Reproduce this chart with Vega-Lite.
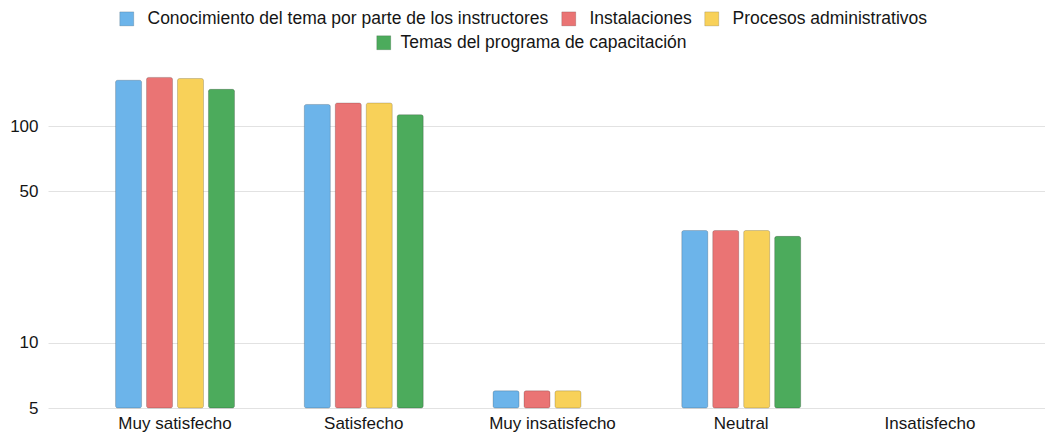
{
  "$schema": "https://vega.github.io/schema/vega-lite/v6.json",
  "width": 1009,
  "height": 347,
  "autosize": {"type": "none"},
  "padding": {"left": 48, "top": 61, "right": 0, "bottom": 29},
  "background": "white",
  "config": {
    "view": {"stroke": null},
    "font": "Liberation Sans",
    "axis": {"labelFont": "Liberation Sans", "labelColor": "#151515", "labelFontSize": 17, "ticks": false, "domain": false, "title": null},
    "legend": {"labelFont": "Liberation Sans", "labelColor": "#151515", "labelFontSize": 17.5, "labelLimit": 600}
  },
  "data": {
    "values": [
      {"categoria": "Muy satisfecho", "serie": "Conocimiento del tema por parte de los instructores", "valor": 163},
      {"categoria": "Muy satisfecho", "serie": "Instalaciones", "valor": 168},
      {"categoria": "Muy satisfecho", "serie": "Procesos administrativos", "valor": 166},
      {"categoria": "Muy satisfecho", "serie": "Temas del programa de capacitación", "valor": 148},
      {"categoria": "Satisfecho", "serie": "Conocimiento del tema por parte de los instructores", "valor": 126},
      {"categoria": "Satisfecho", "serie": "Instalaciones", "valor": 128},
      {"categoria": "Satisfecho", "serie": "Procesos administrativos", "valor": 128},
      {"categoria": "Satisfecho", "serie": "Temas del programa de capacitación", "valor": 113},
      {"categoria": "Muy insatisfecho", "serie": "Conocimiento del tema por parte de los instructores", "valor": 6},
      {"categoria": "Muy insatisfecho", "serie": "Instalaciones", "valor": 6},
      {"categoria": "Muy insatisfecho", "serie": "Procesos administrativos", "valor": 6},
      {"categoria": "Neutral", "serie": "Conocimiento del tema por parte de los instructores", "valor": 33},
      {"categoria": "Neutral", "serie": "Instalaciones", "valor": 33},
      {"categoria": "Neutral", "serie": "Procesos administrativos", "valor": 33},
      {"categoria": "Neutral", "serie": "Temas del programa de capacitación", "valor": 31}
    ]
  },
  "encoding": {
    "x": {
      "field": "categoria", "type": "nominal", "title": null,
      "scale": {"domain": ["Muy satisfecho", "Satisfecho", "Muy insatisfecho", "Neutral", "Insatisfecho"], "paddingInner": 0.37, "paddingOuter": 0.358},
      "axis": {"labelAngle": 0, "labelPadding": 7, "grid": false}
    },
    "y": {
      "field": "valor", "type": "quantitative", "title": null,
      "scale": {"type": "log", "domain": [5, 200], "nice": false, "zero": false},
      "axis": {"values": [5, 10, 50, 100], "grid": true, "gridColor": "#e2e2e2", "labelPadding": 10, "format": "d"}
    },
    "y2": {"datum": 5},
    "xOffset": {
      "field": "serie", "type": "nominal",
      "scale": {"domain": ["Conocimiento del tema por parte de los instructores", "Instalaciones", "Procesos administrativos", "Temas del programa de capacitación"], "paddingInner": 0.16, "paddingOuter": 0}
    }
  },
  "layer": [
    {
      "transform": [{"filter": "datum.serie !== 'Temas del programa de capacitación'"}],
      "mark": {"type": "bar", "cornerRadius": 2, "stroke": "rgba(0,0,0,0.18)", "strokeWidth": 1},
      "encoding": {
        "color": {
          "field": "serie", "type": "nominal",
          "scale": {"domain": ["Conocimiento del tema por parte de los instructores", "Instalaciones", "Procesos administrativos"], "range": ["#6CB4EA", "#EA7474", "#F8D159"]},
          "legend": {"title": null, "orient": "none", "direction": "horizontal", "legendX": 70, "legendY": -51, "symbolType": "square", "symbolSize": 196, "symbolStrokeWidth": 1, "symbolStrokeColor": "rgba(0,0,0,0.15)", "labelOffset": 12, "columnPadding": 10}
        }
      }
    },
    {
      "transform": [{"filter": "datum.serie === 'Temas del programa de capacitación'"}],
      "mark": {"type": "bar", "cornerRadius": 2, "stroke": "rgba(0,0,0,0.2)", "strokeWidth": 1},
      "encoding": {
        "color": {
          "field": "serie", "type": "nominal",
          "scale": {"domain": ["Temas del programa de capacitación"], "range": ["#4CAB5C"]},
          "legend": {"title": null, "orient": "none", "direction": "horizontal", "legendX": 327, "legendY": -27, "symbolType": "square", "symbolSize": 196, "symbolStrokeWidth": 1, "symbolStrokeColor": "rgba(0,0,0,0.15)", "labelOffset": 8}
        }
      }
    }
  ],
  "resolve": {"scale": {"color": "independent"}, "legend": {"color": "independent"}}
}
